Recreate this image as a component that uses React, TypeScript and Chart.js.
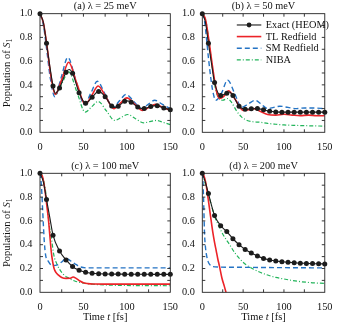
import React, { useEffect, useRef } from "react";
import { Chart, registerables } from "chart.js";
Chart.register(...registerables);

const CANVAS_W = 341;
const CANVAS_H = 328;
const SERIF = '"Liberation Serif", "Times New Roman", "DejaVu Serif", serif';

const SERIES_LABELS = ["Exact (HEOM)", "TL Redfield", "SM Redfield", "NIBA"];
const SERIES_COLORS = ["#1c1c1c", "#ec2328", "#2473c4", "#22b45a"];
const PANEL_TITLES = ["(a) λ = 25 meV", "(b) λ = 50 meV", "(c) λ = 100 meV", "(d) λ = 200 meV"];
const X_TICKS = [0, 50, 100, 150];
const Y_TICKS = [0, 0.2, 0.4, 0.6, 0.8, 1.0];
const X_LABEL = ["Time ", "t", " [fs]"];
const Y_LABEL = ["Population of ", "S", "1"];
const MARKER_STEP = 7.5;

// ---------- panel (a) λ = 25 meV ----------
const exactA_t = [0, 3.75, 7.5, 11.25, 15, 17.5, 22.5, 30, 33.5, 37.5, 45, 52.5, 60, 67.5, 75, 82.5, 86, 90, 97.5, 100, 105, 112.5, 118, 120, 127.5, 133, 135, 142.5, 150];
const exactA_p = [1.0, 0.93, 0.75, 0.56, 0.39, 0.33, 0.374, 0.507, 0.53, 0.498, 0.334, 0.245, 0.295, 0.345, 0.3, 0.222, 0.21, 0.22, 0.261, 0.265, 0.253, 0.214, 0.2, 0.201, 0.217, 0.225, 0.224, 0.204, 0.19];
const tlA_t = [0, 4, 8, 12, 17.5, 25.5, 33, 42.5, 52, 59.5, 67, 76, 85, 92.5, 100, 109, 118, 125.5, 133, 141.5, 150];
const tlA_p = [1.0, 0.92, 0.73, 0.5, 0.32, 0.455, 0.59, 0.41, 0.235, 0.31, 0.39, 0.295, 0.2, 0.245, 0.29, 0.237, 0.185, 0.21, 0.235, 0.21, 0.185];
const smA_t = [0, 4, 8, 12, 17, 24.5, 32, 41.5, 51, 58.5, 66, 75, 84, 91.5, 99, 108, 117, 124.5, 132, 141, 150];
const smA_p = [1.0, 0.9, 0.68, 0.45, 0.3, 0.465, 0.63, 0.43, 0.235, 0.33, 0.43, 0.32, 0.21, 0.265, 0.32, 0.26, 0.2, 0.235, 0.27, 0.235, 0.2];
const nibaA_t = [0, 4, 8, 12, 18, 25.5, 33, 42.5, 52, 59.5, 67, 76.5, 86, 93.5, 101, 110, 119, 126.5, 134, 142, 150];
const nibaA_p = [1.0, 0.91, 0.72, 0.5, 0.32, 0.415, 0.51, 0.34, 0.17, 0.215, 0.26, 0.18, 0.1, 0.125, 0.15, 0.115, 0.08, 0.09, 0.1, 0.083, 0.065];

// ---------- panel (b) λ = 50 meV ----------
const exactB_t = [0, 3.75, 7.5, 11.25, 15, 22.5, 30, 33, 37.5, 45, 52.5, 60, 67.5, 75, 82.5, 90, 97.5, 105, 112.5, 120, 127.5, 135, 142.5, 150];
const exactB_p = [1.0, 0.93, 0.75, 0.58, 0.42, 0.31, 0.33, 0.34, 0.31, 0.22, 0.195, 0.198, 0.2, 0.19, 0.177, 0.172, 0.17, 0.17, 0.17, 0.17, 0.17, 0.17, 0.17, 0.17];
const tlB_t = [0, 4, 8, 12, 15, 18, 21, 26, 32, 40, 50, 57, 63, 70, 80, 90, 100, 110, 120, 130, 140, 150];
const tlB_p = [1.0, 0.95, 0.78, 0.58, 0.44, 0.33, 0.285, 0.3, 0.35, 0.28, 0.185, 0.19, 0.2, 0.18, 0.15, 0.145, 0.152, 0.145, 0.14, 0.145, 0.14, 0.14];
const smB_t = [0, 2.5, 5, 7.5, 10, 12.5, 16.5, 23.5, 31, 39.5, 48, 56.5, 65, 72.5, 80, 87.5, 95, 105, 115, 125, 135, 150];
const smB_p = [1.0, 0.95, 0.8, 0.63, 0.48, 0.36, 0.27, 0.33, 0.44, 0.33, 0.21, 0.24, 0.27, 0.235, 0.2, 0.21, 0.22, 0.21, 0.2, 0.205, 0.205, 0.2];
const nibaB_t = [0, 4, 8, 12, 16, 20, 25, 31, 36, 42, 48, 55, 63, 70, 80, 90, 100, 115, 130, 150];
const nibaB_p = [1.0, 0.95, 0.78, 0.56, 0.37, 0.29, 0.27, 0.285, 0.25, 0.18, 0.13, 0.1, 0.088, 0.085, 0.075, 0.068, 0.062, 0.058, 0.055, 0.052];

// ---------- panel (c) λ = 100 meV ----------
const exactC_t = [0, 3.75, 7.5, 11.25, 15, 22.5, 30, 37.5, 45, 52.5, 60, 67.5, 75, 82.5, 90, 97.5, 105, 112.5, 120, 127.5, 135, 142.5, 150];
const exactC_p = [1.0, 0.93, 0.78, 0.63, 0.48, 0.347, 0.272, 0.216, 0.185, 0.168, 0.16, 0.156, 0.154, 0.153, 0.153, 0.152, 0.152, 0.152, 0.152, 0.151, 0.151, 0.151, 0.151];
const tlC_t = [0, 3, 5.5, 8, 9.6, 11.3, 13, 14.5, 16.2, 18.5, 21, 25, 30, 35, 38, 42, 46, 50, 55, 62, 75, 150];
const tlC_p = [1.0, 0.97, 0.87, 0.72, 0.62, 0.48, 0.34, 0.26, 0.2, 0.165, 0.146, 0.125, 0.117, 0.118, 0.128, 0.115, 0.095, 0.08, 0.073, 0.07, 0.069, 0.069];
const smC_t = [0, 1, 2, 3, 4, 5, 6.5, 9.6, 14, 20, 25, 30, 35, 40, 46, 55, 70, 150];
const smC_p = [1.0, 0.95, 0.85, 0.7, 0.55, 0.42, 0.31, 0.26, 0.225, 0.23, 0.255, 0.285, 0.265, 0.24, 0.215, 0.205, 0.205, 0.205];
const nibaC_t = [0, 3, 6, 8.5, 10.5, 12.7, 16, 19, 22, 27, 33.5, 40, 46, 52, 60, 80, 100, 150];
const nibaC_p = [1.0, 0.97, 0.87, 0.72, 0.57, 0.48, 0.31, 0.245, 0.2, 0.15, 0.118, 0.095, 0.083, 0.076, 0.068, 0.06, 0.057, 0.055];

// ---------- panel (d) λ = 200 meV ----------
const exactD_t = [0, 3.75, 7.5, 15, 22.5, 30, 37.5, 45, 52.5, 60, 67.5, 75, 82.5, 90, 97.5, 105, 112.5, 120, 127.5, 135, 142.5, 150];
const exactD_p = [1.0, 0.925, 0.83, 0.645, 0.56, 0.51, 0.45, 0.4, 0.36, 0.33, 0.305, 0.285, 0.272, 0.263, 0.257, 0.252, 0.248, 0.245, 0.243, 0.241, 0.24, 0.238];
const tlD_t = [0, 2, 4, 6.5, 8.5, 10.5, 13, 15, 17, 19, 21, 24, 27, 29, 32];
const tlD_p = [1.0, 0.98, 0.93, 0.82, 0.72, 0.62, 0.5, 0.42, 0.35, 0.28, 0.22, 0.12, 0.05, 0.0, -0.08];
const smD_t = [0, 0.75, 1.5, 2.7, 4, 5.5, 7, 9.5, 12, 20, 50, 100, 150];
const smD_p = [1.0, 0.94, 0.8, 0.5, 0.37, 0.3, 0.26, 0.23, 0.217, 0.212, 0.21, 0.207, 0.205];
const nibaD_t = [0, 5, 10, 15, 20, 25, 33.5, 40, 52, 60, 70, 80, 90, 100, 110, 120, 135, 150];
const nibaD_p = [1.0, 0.88, 0.76, 0.64, 0.56, 0.49, 0.4, 0.33, 0.24, 0.205, 0.17, 0.145, 0.125, 0.112, 0.1, 0.09, 0.08, 0.075];

type Rect = { left: number; top: number; right: number; bottom: number };
type PanelSpec = {
  title: string;
  rect: Rect;
  series: [number[], number[]][];
  yTitle: boolean;
  xTitle: boolean;
  legend: boolean;
};

const PANELS: PanelSpec[] = [
  { title: PANEL_TITLES[0], rect: { left: 40, top: 13.3, right: 170.3, bottom: 132.3 }, series: [[exactA_t, exactA_p], [tlA_t, tlA_p], [smA_t, smA_p], [nibaA_t, nibaA_p]], yTitle: true, xTitle: false, legend: false },
  { title: PANEL_TITLES[1], rect: { left: 202.3, top: 13.3, right: 332.3, bottom: 132.3 }, series: [[exactB_t, exactB_p], [tlB_t, tlB_p], [smB_t, smB_p], [nibaB_t, nibaB_p]], yTitle: false, xTitle: false, legend: true },
  { title: PANEL_TITLES[2], rect: { left: 40, top: 173.3, right: 170.3, bottom: 292.3 }, series: [[exactC_t, exactC_p], [tlC_t, tlC_p], [smC_t, smC_p], [nibaC_t, nibaC_p]], yTitle: true, xTitle: true, legend: false },
  { title: PANEL_TITLES[3], rect: { left: 202.3, top: 173.3, right: 332.3, bottom: 292.3 }, series: [[exactD_t, exactD_p], [tlD_t, tlD_p], [smD_t, smD_p], [nibaD_t, nibaD_p]], yTitle: false, xTitle: true, legend: false },
];

const Y_AXIS_W = 30;
const X_AXIS_H = 20;

const isMarker = (t: number) => Math.abs(t / MARKER_STEP - Math.round(t / MARKER_STEP)) < 1e-6;
const toPoints = (t: number[], p: number[]) => t.map((x, i) => ({ x, y: p[i] }));

function drawRich(ctx: CanvasRenderingContext2D, parts: { text: string; font: string; dy?: number }[], x: number, y: number) {
  const widths = parts.map((p) => {
    ctx.font = p.font;
    return ctx.measureText(p.text).width;
  });
  const total = widths.reduce((a, b) => a + b, 0);
  let cx = x - total / 2;
  ctx.textAlign = "left";
  parts.forEach((p, i) => {
    ctx.font = p.font;
    ctx.fillText(p.text, cx, y + (p.dy || 0));
    cx += widths[i];
  });
}

function makeDecorPlugin(spec: PanelSpec) {
  return {
    id: "decor",
    afterDatasetsDraw(chart: any) {
      const { ctx, chartArea: a, scales } = chart;
      const xs = scales.x;
      const ys = scales.y;
      ctx.save();
      ctx.strokeStyle = "#222";
      ctx.lineWidth = 0.9;
      ctx.strokeRect(a.left, a.top, a.right - a.left, a.bottom - a.top);
      ctx.beginPath();
      for (let t = 25; t < 150; t += 25) {
        const px = xs.getPixelForValue(t);
        ctx.moveTo(px, a.bottom);
        ctx.lineTo(px, a.bottom - 3);
        ctx.moveTo(px, a.top);
        ctx.lineTo(px, a.top + 3);
      }
      for (let i = 1; i < 10; i++) {
        const py = ys.getPixelForValue(i / 10);
        ctx.moveTo(a.left, py);
        ctx.lineTo(a.left + 3, py);
        ctx.moveTo(a.right, py);
        ctx.lineTo(a.right - 3, py);
      }
      ctx.stroke();

      ctx.fillStyle = "#111";
      ctx.textBaseline = "alphabetic";
      const cxp = (a.left + a.right) / 2;
      // panel title
      ctx.font = `10.3px ${SERIF}`;
      ctx.textAlign = "center";
      ctx.fillText(spec.title, cxp, a.top - 4.5);

      // x title
      if (spec.xTitle) {
        drawRich(
          ctx,
          [
            { text: X_LABEL[0], font: `10.5px ${SERIF}` },
            { text: X_LABEL[1], font: `italic 10.5px ${SERIF}` },
            { text: X_LABEL[2], font: `10.5px ${SERIF}` },
          ],
          cxp,
          a.bottom + 27.5
        );
      }
      // y title
      if (spec.yTitle) {
        ctx.save();
        ctx.translate(9.5, (a.top + a.bottom) / 2);
        ctx.rotate(-Math.PI / 2);
        drawRich(
          ctx,
          [
            { text: Y_LABEL[0], font: `10.5px ${SERIF}` },
            { text: Y_LABEL[1], font: `italic 10.5px ${SERIF}` },
            { text: Y_LABEL[2], font: `7.5px ${SERIF}`, dy: 2.5 },
          ],
          0,
          0
        );
        ctx.restore();
      }
      // legend
      if (spec.legend) {
        const rowY0 = a.top + 11.3;
        const rowStep = 11.6;
        const lx0 = a.left + 34.5;
        const lx1 = a.left + 59;
        const tx = a.left + 63.5;
        chart.data.datasets.forEach((ds: any, i: number) => {
          const y = rowY0 + i * rowStep;
          ctx.save();
          ctx.strokeStyle = ds.borderColor;
          ctx.lineWidth = ds.borderWidth;
          ctx.setLineDash(ds.borderDash || []);
          ctx.beginPath();
          ctx.moveTo(lx0, y);
          ctx.lineTo(lx1, y);
          ctx.stroke();
          ctx.restore();
          if (i === 0) {
            ctx.beginPath();
            ctx.fillStyle = ds.borderColor;
            ctx.arc((lx0 + lx1) / 2, y, 2.4, 0, Math.PI * 2);
            ctx.fill();
          }
          ctx.fillStyle = "#111";
          ctx.font = `10.3px ${SERIF}`;
          ctx.textAlign = "left";
          ctx.textBaseline = "middle";
          ctx.fillText(ds.label, tx, y + 0.5);
        });
      }
      ctx.restore();
    },
  };
}

function Panel({ spec }: { spec: PanelSpec }) {
  const ref = useRef<HTMLCanvasElement | null>(null);
  useEffect(() => {
    if (!ref.current) return;
    const r = spec.rect;
    const styles = [
      { borderWidth: 1.1, borderDash: [] as number[] },
      { borderWidth: 1.6, borderDash: [] as number[] },
      { borderWidth: 1.4, borderDash: [5, 3] },
      { borderWidth: 1.2, borderDash: [4, 2, 1, 2] },
    ];
    const datasets = spec.series.map(([t, p], i) => ({
      label: SERIES_LABELS[i],
      data: toPoints(t, p),
      borderColor: SERIES_COLORS[i],
      backgroundColor: SERIES_COLORS[i],
      borderWidth: styles[i].borderWidth,
      borderDash: styles[i].borderDash,
      fill: false,
      cubicInterpolationMode: "monotone" as const,
      pointRadius: i === 0 ? (c: any) => (c.raw && isMarker(c.raw.x) ? 2.5 : 0) : 0,
      pointBorderWidth: 0,
      pointHoverRadius: 0,
      clip: i === 0 ? false : undefined,
    }));
    const tickFont = { family: SERIF, size: 10.3 };
    const chart = new Chart(ref.current, {
      type: "line",
      data: { datasets: datasets as any },
      options: {
        responsive: false,
        animation: false,
        events: [],
        layout: {
          padding: {
            left: r.left - Y_AXIS_W,
            top: r.top,
            right: CANVAS_W - r.right,
            bottom: CANVAS_H - r.bottom - X_AXIS_H,
          },
        },
        plugins: { legend: { display: false }, tooltip: { enabled: false }, title: { display: false } },
        scales: {
          x: {
            type: "linear",
            min: 0,
            max: 150,
            afterBuildTicks: (s: any) => {
              s.ticks = X_TICKS.map((v) => ({ value: v }));
            },
            afterFit: (s: any) => {
              s.height = X_AXIS_H;
            },
            grid: { display: false, drawTicks: false },
            border: { display: false },
            ticks: { font: tickFont, color: "#111", padding: 8.5, maxRotation: 0, autoSkip: false },
          },
          y: {
            type: "linear",
            min: 0,
            max: 1,
            afterBuildTicks: (s: any) => {
              s.ticks = Y_TICKS.map((v) => ({ value: v }));
            },
            afterFit: (s: any) => {
              s.width = Y_AXIS_W;
            },
            grid: { display: false, drawTicks: false },
            border: { display: false },
            ticks: {
              font: tickFont,
              color: "#111",
              padding: 7.5,
              autoSkip: false,
              callback: (v: any) => Number(v).toFixed(1),
            },
          },
        },
      },
      plugins: [makeDecorPlugin(spec)],
    });
    return () => chart.destroy();
  }, [spec]);
  return (
    <canvas
      ref={ref}
      width={CANVAS_W}
      height={CANVAS_H}
      style={{ position: "absolute", left: 0, top: 0, width: CANVAS_W, height: CANVAS_H }}
    />
  );
}

export default function App() {
  return (
    <div style={{ position: "fixed", left: 0, top: 0, width: CANVAS_W, height: CANVAS_H, background: "#fff" }}>
      {PANELS.map((p, i) => (
        <Panel key={i} spec={p} />
      ))}
    </div>
  );
}
